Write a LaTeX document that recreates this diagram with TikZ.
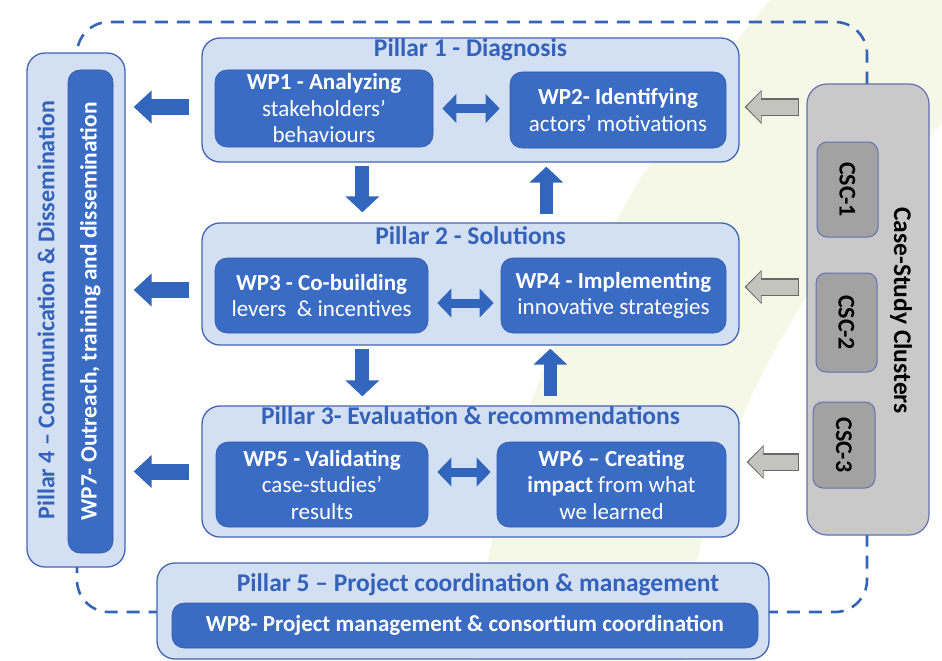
\documentclass[tikz,border=0pt]{standalone}
\usepackage{fontspec}
\setmainfont{Carlito}
\usetikzlibrary{arrows.meta,calc}
\definecolor{wpblue}{RGB}{58,108,196}
\definecolor{wpborder}{RGB}{50,90,170}
\definecolor{pfill}{RGB}{211,224,243}
\definecolor{pborder}{RGB}{68,100,180}
\definecolor{titleblue}{RGB}{52,98,186}
\definecolor{arrowblue}{RGB}{50,102,188}
\definecolor{csfill}{RGB}{201,201,201}
\definecolor{cscfill}{RGB}{162,162,162}
\definecolor{csborder}{RGB}{100,112,175}
\definecolor{garrowfill}{RGB}{196,196,190}
\definecolor{garrowborder}{RGB}{105,105,105}
\definecolor{swoosh}{RGB}{245,248,230}
\definecolor{dashblue}{RGB}{50,100,185}
\begin{document}
\begin{tikzpicture}[x=1pt,y=-1pt,
  pillar/.style={draw=pborder, fill=pfill, line width=1.3pt, rounded corners=18pt, inner sep=0pt},
  wpbox/.style={draw=wpborder, fill=wpblue, line width=0.6pt, rounded corners=12pt, inner sep=0pt,
    text=white, align=center, font=\fontsize{23}{26.5}\selectfont},
  ptitle/.style={text=titleblue, font=\fontsize{25.5}{28}\selectfont\bfseries, inner sep=0pt},
  csbox/.style={draw=csborder, fill=csfill, line width=1.2pt, rounded corners=20pt, inner sep=0pt},
  cscbox/.style={draw=csborder, fill=cscfill, line width=1pt, rounded corners=10pt, inner sep=0pt,
    font=\fontsize{24}{26}\selectfont\bfseries, text=black},
  harrow/.style={draw=arrowblue, line width=16pt, -{Triangle[length=18pt,width=32pt]}},
  varrow/.style={draw=arrowblue, line width=14pt, -{Triangle[length=16pt,width=33pt]}},
  darrow/.style={draw=arrowblue, line width=9pt, {Triangle[length=14pt,width=28pt]}-{Triangle[length=14pt,width=28pt]}},
  garrowout/.style={draw=garrowborder, line width=17.5pt, -{Triangle[length=17pt,width=33pt]}},
  garrowin/.style={draw=garrowfill, line width=15pt, -{Triangle[length=14.5pt,width=29pt]}, shorten >=1.6pt, shorten <=1.3pt},
  frame/.style={draw=dashblue, line width=2.6pt, dash pattern=on 13pt off 9pt, rounded corners=32pt}
]
\useasboundingbox (0,0) rectangle (942,661);
\fill[white] (0,0) rectangle (942,661);
% background swoosh
\fill[swoosh] (770,0) -- (942,0) -- (942,123) .. controls (820,260) and (700,420) .. (684,661)
  -- (478,661) .. controls (480,500) and (560,250) .. (770,0) -- cycle;
% dashed frame
\coordinate (ftl) at (77,22);
\coordinate (fbr) at (867,612);
\draw[frame] (ftl) rectangle (fbr);

% Pillar 4
\node[pillar, minimum width=98pt, minimum height=514pt] (p4) at (76,310) {};
\node[wpbox, rotate=90, minimum width=483pt, minimum height=45pt, font=\fontsize{23.4}{26}\selectfont\bfseries] (wp7) at (90.5,311.5) {WP7- Outreach, training and dissemination};
\node[ptitle, rotate=90, font=\fontsize{24}{26}\selectfont\bfseries] (p4t) at ($(p4.center)+(-30,0)$) {Pillar 4 – Communication \& Dissemination};

% Pillar 1
\node[pillar, minimum width=537pt, minimum height=124pt] (p1) at (470.5,100) {};
\node[ptitle] (p1t) at ($(p1.north)+(0,12)$) {Pillar 1 - Diagnosis};
\node[wpbox, minimum width=218pt, minimum height=77pt] (wp1) at (324,108.5) {\textbf{WP1 - Analyzing}\\stakeholders’\\behaviours};
\node[wpbox, minimum width=216pt, minimum height=76pt] (wp2) at (618,110) {\textbf{WP2- Identifying}\\actors’ motivations};

% Pillar 2
\node[pillar, minimum width=537pt, minimum height=122pt] (p2) at (470.5,284) {};
\node[ptitle] (p2t) at ($(p2.north)+(0,13)$) {Pillar 2 - Solutions};
\node[wpbox, minimum width=213pt, minimum height=75pt] (wp3) at (321.5,295.5) {\textbf{WP3 - Co-building}\\levers\ \ \& incentives};
\node[wpbox, minimum width=225pt, minimum height=75pt] (wp4) at (613.5,295.5) {\textbf{WP4 - Implementing}\\innovative strategies};

% Pillar 3
\node[pillar, minimum width=537pt, minimum height=131pt] (p3) at (470.5,471.5) {};
\node[ptitle] (p3t) at ($(p3.north)+(0,10)$) {Pillar 3- Evaluation \& recommendations};
\node[wpbox, minimum width=212pt, minimum height=85pt] (wp5) at (322,484.5) {\textbf{WP5 - Validating}\\case-studies’\\results};
\node[wpbox, minimum width=229pt, minimum height=85pt] (wp6) at (611.5,484.5) {\textbf{WP6 – Creating}\\\textbf{impact} from what\\we learned};

% Pillar 5
\node[pillar, minimum width=612pt, minimum height=96pt] (p5) at (463,611) {};
\node[ptitle] (p5t) at ($(p5.north)+(15,22)$) {Pillar 5 – Project coordination \& management};
\node[wpbox, minimum width=586pt, minimum height=45pt, font=\fontsize{23}{26}\selectfont\bfseries] (wp8) at (465,625.5) {WP8- Project management \& consortium coordination};

% Case-study clusters
\node[csbox, minimum width=122pt, minimum height=451pt] (cs) at (868,309.5) {};
\node[rotate=-90, font=\fontsize{25.5}{28}\selectfont\bfseries, inner sep=0pt] (cst) at ($(cs.center)+(33,1)$) {Case-Study Clusters};
\node[cscbox, rotate=-90, minimum width=95pt, minimum height=61pt] (csc1) at (847.5,189.5) {CSC-1};
\node[cscbox, rotate=-90, minimum width=99pt, minimum height=61pt] (csc2) at (846.5,322.5) {CSC-2};
\node[cscbox, rotate=-90, minimum width=86pt, minimum height=62pt] (csc3) at (844,445) {CSC-3};

% arrows to pillar 4
\draw[harrow] ($(p1.west)+(-12,7)$) -- ($(p1.west -| p4.east)+(8,7)$);
\draw[harrow] ($(p2.west)+(-12,6)$) -- ($(p2.west -| p4.east)+(8,6)$);
\draw[harrow] ($(p3.west)+(-12,0)$) -- ($(p3.west -| p4.east)+(8,0)$);

% double arrows
\draw[darrow] ($(wp1.east)+(9,0)$) -- ($(wp1.east -| wp2.west)+(-10,0)$);
\draw[darrow] ($(wp3.east)+(9,7.5)$) -- ($(wp3.east -| wp4.west)+(-7,7.5)$);
\draw[darrow] ($(wp5.east)+(9,-12.5)$) -- ($(wp5.east -| wp6.west)+(-6,-12.5)$);

% vertical arrows
\draw[varrow] ($(p1.south west)+(161,3)$) -- ($(p1.south west |- p2.north)+(161,-10)$);
\draw[varrow, line width=13pt] ($(p2.north west)+(345,-8)$) -- ($(p1.south west)+(345,4)$);
\draw[varrow] ($(p2.south west)+(161,3)$) -- ($(p2.south west |- p3.north)+(161,-9)$);
\draw[varrow, line width=13pt] ($(p3.north west)+(349,-9)$) -- ($(p2.south west)+(349,3)$);

% gray arrows from case-study clusters
\draw[garrowout] ($(p1.east -| cs.west)+(-7,7)$) -- ($(p1.east)+(5,7)$);
\draw[garrowin] ($(p1.east -| cs.west)+(-7,7)$) -- ($(p1.east)+(5,7)$);
\draw[garrowout] ($(p2.east -| cs.west)+(-7,3)$) -- ($(p2.east)+(5,3)$);
\draw[garrowin] ($(p2.east -| cs.west)+(-7,3)$) -- ($(p2.east)+(5,3)$);
\draw[garrowout] ($(p3.east -| cs.west)+(-7,-9.5)$) -- ($(p3.east)+(7,-9.5)$);
\draw[garrowin] ($(p3.east -| cs.west)+(-7,-9.5)$) -- ($(p3.east)+(7,-9.5)$);
\end{tikzpicture}
\end{document}
